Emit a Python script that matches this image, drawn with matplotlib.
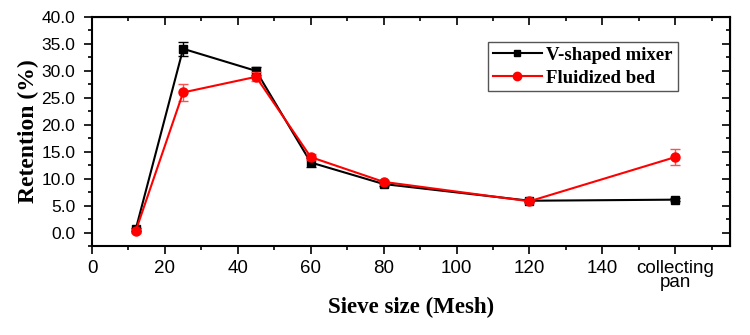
import numpy as np
import matplotlib
matplotlib.use('Agg')
import matplotlib.pyplot as plt
from matplotlib.ticker import MultipleLocator
from matplotlib.lines import Line2D

# sieve positions (mesh); the collecting pan is placed at 160
sieve = [12, 25, 45, 60, 80, 120, 160]
tick_pos = [0, 20, 40, 60, 80, 100, 120, 140, 160]
tick_lab = ['0', '20', '40', '60', '80', '100', '120', '140', 'collecting\npan']

v_mixer = [0.6, 34.1, 30.0, 13.0, 9.0, 5.9, 6.1]
v_mixer_err = [0.3, 1.3, 0.8, 0.8, 0.3, 0.3, 0.3]
fluid_bed = [0.3, 26.0, 28.9, 14.0, 9.4, 5.8, 14.0]
fluid_bed_err = [0.3, 1.5, 0.8, 0.6, 0.4, 0.3, 1.5]

fig = plt.figure(figsize=(7.5, 3.35), dpi=100)
ax = fig.add_axes([92/750, 1-246/335, (730-92)/750, (246-17)/335])

ax.errorbar(sieve, v_mixer, yerr=v_mixer_err, color='black', marker='s', ms=5.5,
            lw=1.5, capsize=3.5, elinewidth=1, zorder=3)
ax.errorbar(sieve, fluid_bed, yerr=fluid_bed_err, color='red', marker='o', ms=6.5,
            lw=1.5, capsize=3.5, elinewidth=1, ecolor='#ff5050', zorder=4)

ax.set_xlim(0, 175)
ax.set_ylim(-2.5, 40)
ax.set_xticks(tick_pos)
ax.set_xticklabels(tick_lab, family='Liberation Sans', fontsize=13.5, linespacing=0.8)
ax.xaxis.set_minor_locator(MultipleLocator(10))
yt = np.arange(0, 40.1, 5)
ax.set_yticks(yt)
ax.set_yticklabels(['%.1f' % v for v in yt], family='Liberation Sans', fontsize=12.5)
ax.yaxis.set_minor_locator(MultipleLocator(2.5))
ax.tick_params(which='major', direction='out', length=6, width=1.2)
ax.tick_params(which='minor', direction='out', length=3, width=1.2)
ax.tick_params(axis='y', which='major', pad=6)
ax.tick_params(axis='x', which='major', pad=4)
for s in ax.spines.values():
    s.set_linewidth(1.5)

# mirrored inward ticks on top and right
top = ax.secondary_xaxis('top')
top.xaxis.set_major_locator(MultipleLocator(20))
top.xaxis.set_minor_locator(MultipleLocator(10))
top.tick_params(which='both', direction='in', labeltop=False, width=1.2)
top.tick_params(which='major', length=6)
top.tick_params(which='minor', length=3)
right = ax.secondary_yaxis('right')
right.yaxis.set_major_locator(MultipleLocator(5))
right.yaxis.set_minor_locator(MultipleLocator(2.5))
right.tick_params(which='both', direction='in', labelright=False, width=1.2)
right.tick_params(which='major', length=6)
right.tick_params(which='minor', length=3)

ax.set_xlabel('Sieve size (Mesh)', family='Liberation Serif', fontweight='bold', fontsize=16.5, labelpad=4)
ax.set_ylabel('Retention (%)', family='Liberation Serif', fontweight='bold', fontsize=17, labelpad=2)

# legend shows line + marker only
handles = [Line2D([], [], color='black', marker='s', ms=5, lw=1.5),
           Line2D([], [], color='red', marker='o', ms=6, lw=1.5)]
leg = ax.legend(handles, ['V-shaped mixer', 'Fluidized bed'], loc='upper right',
                bbox_to_anchor=(0.918, 0.891), fancybox=False, framealpha=1,
                edgecolor='#555555', handlelength=2.6, borderpad=0.25, labelspacing=0.3,
                handletextpad=0.25, borderaxespad=0,
                prop={'family': 'Liberation Serif', 'weight': 'bold', 'size': 13.5})
leg.get_frame().set_linewidth(1)

fig.savefig('out.png', dpi=100)
